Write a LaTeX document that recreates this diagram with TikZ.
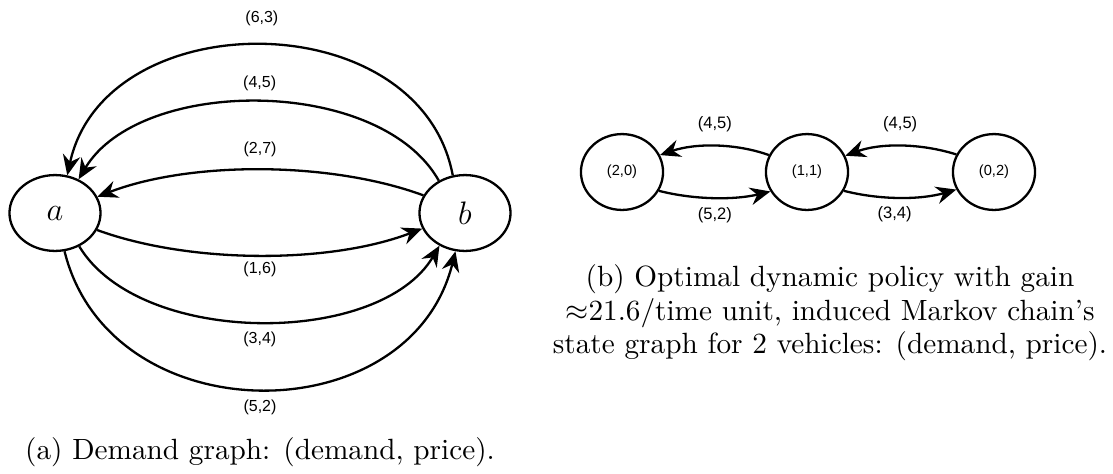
\documentclass[tikz,border=0pt]{standalone}
\usepackage{fontspec}
\newfontfamily\lblfont{Liberation Sans}
\usetikzlibrary{arrows.meta,shapes.geometric}
\tikzset{
  st/.style={draw, ellipse, line width=0.85pt, inner sep=0pt},
  bigst/.style={st, minimum width=33.6pt, minimum height=28pt, font=\fontsize{11.5}{13}\selectfont},
  smst/.style={st, minimum width=30.3pt, minimum height=28pt, font=\lblfont\fontsize{5.4}{6.5}\selectfont},
  arr/.style={line width=0.85pt, -{Stealth[length=7.5pt,width=6.5pt,inset=2.5pt]}},
  lab/.style={font=\lblfont\fontsize{5.9}{7}\selectfont, inner sep=0pt},
  rlab/.style={font=\lblfont\fontsize{6.1}{7}\selectfont, inner sep=0pt},
  captxt/.style={font=\fontsize{10.8}{12.4}\selectfont, align=center, inner sep=0pt}
}
\begin{document}
\begin{tikzpicture}[x=0.369pt,y=-0.369pt]
\useasboundingbox (0,0) rectangle (1113,473);
% (a)
\node[bigst] (a) at (55,213) {$a$};
\node[bigst] (b) at (465,213) {$b$};
\draw[arr] (b.108) .. controls (420,2) and (105,2) .. (a.72)
  node[lab, midway, yshift=10pt] (l63) {(6,3)};
\draw[arr] (b.129) .. controls (380,76) and (140,76) .. (a.55)
  node[lab, midway, yshift=7pt] (l45) {(4,5)};
\draw[arr] (b.157) .. controls (330,161) and (190,161) .. (a.21)
  node[lab, midway, yshift=7.4pt] (l27) {(2,7)};
\draw[arr] (a.-22) .. controls (190,264) and (330,264) .. (b.200)
  node[lab, midway, yshift=-5.2pt] (l16) {(1,6)};
\draw[arr] (a.-54) .. controls (140,347) and (380,347) .. (b.232)
  node[lab, midway, yshift=-6.6pt] (l34) {(3,4)};
\draw[arr] (a.-76) .. controls (110,435) and (410,435) .. (b.256)
  node[lab, midway, yshift=-6.6pt] (l52) {(5,2)};
\node[captxt] (capa) at (260,452) {(a) Demand graph: (demand, price).};
% (b)
\node[smst] (s20) at (622,172) {(2,0)};
\node[smst] (s11) at (807,172) {(1,1)};
\node[smst] (s02) at (994,172) {(0,2)};
\draw[arr] (s11.156) .. controls (735,143) and (695,143) .. (s20.24)
  node[rlab, midway, yshift=8pt] (r45a) {(4,5)};
\draw[arr] (s20.-27) .. controls (695,200) and (735,200) .. (s11.208)
  node[rlab, midway, yshift=-6.3pt] (r52) {(5,2)};
\draw[arr] (s02.155) .. controls (920,143) and (880,143) .. (s11.23)
  node[rlab, midway, yshift=8pt] (r45b) {(4,5)};
\draw[arr] (s11.-27) .. controls (880,200) and (920,200) .. (s02.205)
  node[rlab, midway, xshift=-2pt, yshift=-6.3pt] (r34) {(3,4)};
\node[captxt] (capb) at (830,313) {(b) Optimal dynamic policy with gain\\$\approx$21.6/time unit, induced Markov chain's\\state graph for 2 vehicles: (demand, price).};
\end{tikzpicture}
\end{document}
